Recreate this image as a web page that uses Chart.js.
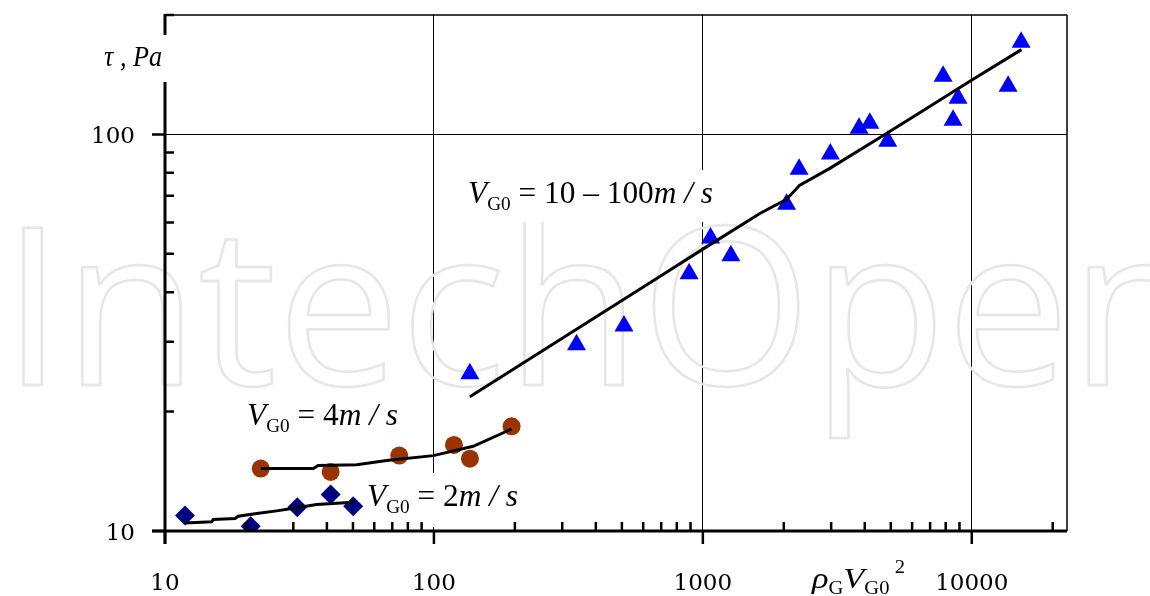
<!DOCTYPE html>
<html lang="es">
<head>
<meta charset="utf-8">
<title>τ vs ρG·VG0²</title>
<script src="https://cdn.jsdelivr.net/npm/chart.js@4.4.0/dist/chart.umd.min.js"></script>
<style>
  html, body { margin: 0; padding: 0; background: #fff; }
  #marco { width: 1150px; height: 596px; }
</style>
</head>
<body>
<div id="marco"><canvas id="grafica" width="1150" height="596"></canvas></div>
<script>
'use strict';

/* ── DATOS ── */
const X_MIN = 10, X_MAX = 22600;
const Y_MIN = 10, Y_MAX = 200;

/* V_G0 = 10-100 m/s (triángulos) */
const TRI_X = [136, 339, 509, 889, 1068, 1271, 2048, 2280, 2979, 3811, 4177, 4872, 7824, 8521, 8893, 13650, 15260];
const TRI_Y = [24.9, 29.5, 32.9, 44.5, 54.8, 49.4, 66.7, 81.7, 89.2, 103.7, 106.7, 96.1, 140.1, 108.6, 123.3, 132.2, 170.7];
const AJ_TRI_X = [136, 692, 997, 1629, 2048, 2294, 2966, 4818, 6785, 9975, 15300];
const AJ_TRI_Y = [21.8, 43.8, 51.3, 63.2, 68.6, 74.5, 82.1, 100.5, 116.2, 136.9, 163.6];

/* V_G0 = 4 m/s (círculos) */
const CIR_X = [22.7, 41.3, 74.3, 118.7, 136.1, 194.5];
const CIR_Y = [14.37, 14.09, 15.49, 16.48, 15.22, 18.36];
const AJ_CIR_X = [22.7, 35.6, 37.1, 51.6, 66.7, 99.4, 140, 194.5];
const AJ_CIR_Y = [14.37, 14.37, 14.62, 14.70, 15.05, 15.49, 16.35, 18.08];

/* V_G0 = 2 m/s (rombos) */
const ROM_X = [11.87, 20.83, 31.03, 41.3, 50.1];
const ROM_Y = [10.94, 10.28, 11.48, 12.36, 11.54];
const AJ_ROM_X = [11.87, 14.91, 15.12, 18.2, 18.73, 21.93, 26.02, 30.87, 36.64, 50.1];
const AJ_ROM_Y = [10.48, 10.55, 10.69, 10.75, 10.90, 11.07, 11.24, 11.44, 11.66, 11.81];

/* Marcas de los ejes */
const X_DECADAS = [10, 100, 1000, 10000];
const X_ETIQUETAS = ['10', '100', '1000', '10000'];
const Y_DECADAS = [10, 100];
const Y_ETIQUETAS = ['10', '100'];

const MARCA_AGUA = 'IntechOpen';

/* ── UTILIDADES ── */
const pares = (xs, ys) => xs.map((x, i) => ({ x, y: ys[i] }));

const esDecada = v => Math.abs(Math.log10(v) - Math.round(Math.log10(v))) < 1e-9;

/** Menores 2..9 de cada década dentro del rango. */
function menores(min, max) {
  const r = [];
  for (let d = Math.pow(10, Math.floor(Math.log10(min))); d <= max; d *= 10) {
    for (let m = 2; m <= 9; m++) {
      const v = m * d;
      if (v >= min && v <= max * 1.0001) r.push(v);
    }
  }
  return r;
}

const SERIF = '"Liberation Serif", "DejaVu Serif", serif';
const fuente = p => (p.i ? 'italic ' : '') + p.s + 'px ' + SERIF;

/** Texto con subíndices / superíndices, ajustado a un ancho dado. */
function textoRico(ctx, partes, x, base, ancho) {
  let total = 0;
  const w = partes.map(p => { ctx.font = fuente(p); const m = ctx.measureText(p.t).width; total += m; return m; });
  const k = ancho ? ancho / total : 1;
  ctx.save();
  ctx.translate(x, base);
  ctx.scale(k, 1);
  ctx.fillStyle = '#000';
  ctx.textBaseline = 'alphabetic';
  ctx.textAlign = 'left';
  let cx = 0;
  partes.forEach((p, i) => {
    ctx.font = fuente(p);
    ctx.fillText(p.t, cx, p.dy || 0);
    cx += w[i];
  });
  ctx.restore();
}

const vg0 = resto => [
  { t: 'V', i: true, s: 31 },
  { t: 'G0', s: 19, dy: 7 },
  { t: ' = ' + resto, s: 31 },
  { t: 'm / s', i: true, s: 31 },
];

/* ── PLUGIN: marca de agua, textos, ejes ── */
const decoracion = {
  id: 'decoracion',
  beforeDatasetsDraw(chart) {
    const ctx = chart.ctx;
    ctx.save();
    ctx.font = '220px "Open Sans", sans-serif';
    ctx.lineWidth = 2.5;
    ctx.strokeStyle = '#e6e6e6';
    ctx.strokeText(MARCA_AGUA, 2, 385);

    /* cajas blancas de las anotaciones */
    ctx.fillStyle = '#fff';
    ctx.fillRect(460, 170, 262, 52);
    ctx.fillRect(358, 473, 170, 54);

    textoRico(ctx, vg0('10 \u2013 100'), 468, 203, 245);
    textoRico(ctx, vg0('4'), 247, 425, 151);
    textoRico(ctx, vg0('2'), 367, 506, 151);
    ctx.restore();
  },
  afterDraw(chart) {
    const ctx = chart.ctx;
    const a = chart.chartArea;
    const sx = chart.scales.x, sy = chart.scales.y;
    ctx.save();
    ctx.strokeStyle = '#000';
    ctx.lineCap = 'butt';

    /* marco fino */
    ctx.lineWidth = 1.5;
    ctx.beginPath();
    ctx.moveTo(a.left, a.top); ctx.lineTo(a.right, a.top);
    ctx.moveTo(a.right, a.top); ctx.lineTo(a.right, a.bottom);
    ctx.stroke();

    /* ejes gruesos */
    ctx.lineWidth = 3;
    ctx.beginPath();
    ctx.moveTo(a.left - 13, a.bottom); ctx.lineTo(a.right, a.bottom);
    ctx.moveTo(a.left, a.top - 1); ctx.lineTo(a.left, a.bottom + 13);
    ctx.stroke();

    /* marcas */
    ctx.lineWidth = 2.5;
    ctx.beginPath();
    X_DECADAS.forEach(v => { const p = sx.getPixelForValue(v); ctx.moveTo(p, a.bottom); ctx.lineTo(p, a.bottom + 13); });
    menores(X_MIN, X_MAX).forEach(v => { const p = sx.getPixelForValue(v); ctx.moveTo(p, a.bottom); ctx.lineTo(p, a.bottom - 9); });
    Y_DECADAS.forEach(v => { const p = sy.getPixelForValue(v); ctx.moveTo(a.left - 13, p); ctx.lineTo(a.left, p); });
    menores(Y_MIN, Y_MAX).forEach(v => { const p = sy.getPixelForValue(v); ctx.moveTo(a.left, p); ctx.lineTo(a.left + 9, p); });
    ctx.stroke();

    /* etiquetas */
    ctx.fillStyle = '#000';
    ctx.font = '23px "DejaVu Serif", serif';
    ctx.textAlign = 'center';
    ctx.textBaseline = 'alphabetic';
    X_DECADAS.forEach((v, i) => ctx.fillText(X_ETIQUETAS[i], sx.getPixelForValue(v), 590));
    ctx.textAlign = 'right';
    Y_DECADAS.forEach((v, i) => ctx.fillText(Y_ETIQUETAS[i], 135, sy.getPixelForValue(v) + 9));

    /* título eje Y (con fondo blanco que corta el eje) */
    ctx.fillStyle = '#fff';
    ctx.fillRect(98, 35, 72, 47);
    textoRico(ctx, [{ t: '\u03C4 , Pa', i: true, s: 29 }], 104, 66, 58);

    /* título eje X */
    textoRico(ctx, [
      { t: '\u03C1', i: true, s: 30 },
      { t: 'G', s: 18, dy: 6 },
      { t: 'V', i: true, s: 30 },
      { t: 'G0', s: 18, dy: 6 },
      { t: ' 2', s: 18, dy: -15 },
    ], 812, 588, 93);
    ctx.restore();
  }
};

/* ── GRÁFICA ── */
const lineaNegra = (datos) => ({
  data: datos, showLine: true, pointRadius: 0, borderColor: '#000',
  borderWidth: 3, fill: false, tension: 0, order: 0,
});
const marcador = (datos, estilo, radio, color) => ({
  data: datos, showLine: false, pointStyle: estilo, pointRadius: radio,
  backgroundColor: color, borderColor: color, borderWidth: 0, order: 1,
});

const colorGrid = c => (c.tick && esDecada(c.tick.value)) ? '#000' : 'rgba(0,0,0,0)';

new Chart(document.getElementById('grafica').getContext('2d'), {
  type: 'scatter',
  data: {
    datasets: [
      lineaNegra(pares(AJ_TRI_X, AJ_TRI_Y)),
      lineaNegra(pares(AJ_CIR_X, AJ_CIR_Y)),
      lineaNegra(pares(AJ_ROM_X, AJ_ROM_Y)),
      marcador(pares(TRI_X, TRI_Y), 'triangle', 11, '#0000ff'),
      marcador(pares(CIR_X, CIR_Y), 'circle', 9, '#993300'),
      marcador(pares(ROM_X, ROM_Y), 'rectRot', 10, '#000080'),
    ]
  },
  options: {
    responsive: false,
    animation: false,
    devicePixelRatio: 1,
    layout: { padding: { left: 165, right: 83, top: 15, bottom: 65 } },
    plugins: { legend: { display: false }, tooltip: { enabled: false } },
    scales: {
      x: {
        type: 'logarithmic', min: X_MIN, max: X_MAX,
        ticks: { display: false },
        grid: { drawTicks: false, color: colorGrid, lineWidth: 1 },
        border: { display: false },
      },
      y: {
        type: 'logarithmic', min: Y_MIN, max: Y_MAX,
        ticks: { display: false },
        grid: { drawTicks: false, color: colorGrid, lineWidth: 1 },
        border: { display: false },
      }
    }
  },
  plugins: [decoracion]
});
</script>
</body>
</html>
